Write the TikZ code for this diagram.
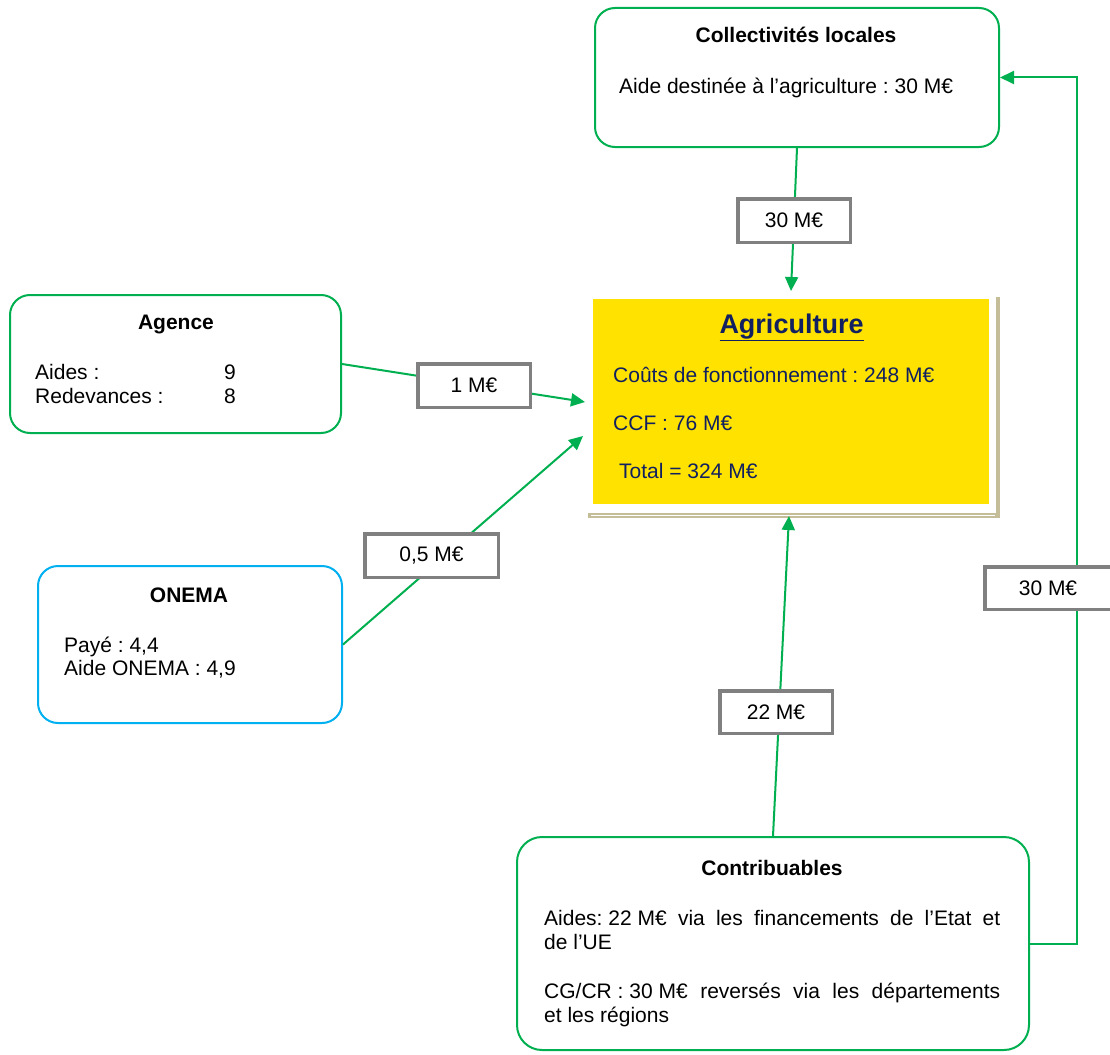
\documentclass[tikz,border=0pt]{standalone}
\usepackage{fontspec}
\setmainfont{Liberation Sans}
\usetikzlibrary{arrows.meta}
\definecolor{grn}{RGB}{0,176,80}
\definecolor{blu}{RGB}{0,176,240}
\definecolor{gry}{RGB}{128,128,128}
\definecolor{yel}{RGB}{255,226,0}
\definecolor{khaki}{RGB}{196,189,151}
\definecolor{navy}{RGB}{16,32,96}
\newcommand{\myfs}{\fontsize{21pt}{24pt}\selectfont\frenchspacing}
\frenchspacing
\begin{document}
\frenchspacing
\begin{tikzpicture}[x=1pt,y=-1pt,
  gbox/.style={draw=grn,line width=2pt,rounded corners=20pt,inner sep=0pt},
  bbox/.style={draw=blu,line width=2pt,rounded corners=20pt,inner sep=0pt},
  labbox/.style={draw=gry,fill=white,line width=3.5pt,inner sep=0pt,font=\myfs},
  flow/.style={draw=grn,line width=2pt,-{Triangle[length=14pt,width=13pt]}},
  txt/.style={inner sep=0pt,anchor=base west,font=\myfs},
  ttl/.style={inner sep=0pt,anchor=base,font=\myfs\bfseries},
]
\useasboundingbox[fill=white] (0,0) rectangle (1110,1054);

% boxes
\node[gbox,minimum width=404pt,minimum height=139pt] (coll) at (797,77.5) {};
\node[gbox,minimum width=331pt,minimum height=138pt] (agence) at (175.5,364) {};
\node[bbox,minimum width=304pt,minimum height=157pt] (onema) at (190,644.5) {};
\node[gbox,rounded corners=25pt,minimum width=512pt,minimum height=213pt] (contrib) at (773,943.5) {};

% agriculture frame
\draw[khaki,line width=3.5pt] (998,297) -- (998,517);
\draw[khaki,line width=5pt] (588,515.5) -- (1000,515.5);
\draw[white,line width=0.8pt] (591,515.5) -- (995,515.5);
\node[fill=yel,minimum width=396pt,minimum height=205pt,inner sep=0pt] (agri) at (791,401.5) {};

% arrow tips
\coordinate (tA) at (585,402);
\coordinate (tO) at (583,436);
\coordinate (tC) at (791,291);
\coordinate (tK) at (789,516);
\coordinate (rx) at (1077,0);

% connectors
\draw[flow] (agence.east) -- (tA);
\draw[flow] (onema.east) -- (tO);
\draw[flow] (coll.south) -- (tC);
\draw[flow] (contrib.north) -- (tK);
\draw[flow] (contrib.east) -- (contrib.east -| rx) -- (coll.east -| rx) -- (coll.east);

% labels on connectors
\node[labbox,minimum width=112.5pt,minimum height=43.5pt] (l30a) at (794,220.5) {30 M€};
\node[labbox,minimum width=126.5pt,minimum height=42.5pt] (l30b) at (1048,588) {30 M€};
\node[labbox,minimum width=112.5pt,minimum height=43.5pt] (l1) at (474,385.5) {1 M€};
\node[labbox,minimum width=133.5pt,minimum height=43.5pt] (l05) at (431.5,555.5) {0,5 M€};
\node[labbox,minimum width=112.5pt,minimum height=42.5pt] (l22) at (776,712) {22 M€};

% Collectivites text
\node[ttl] (collT) at (796,43) {Collectivités locales};
\node[txt] (collA) at (619,94) {Aide destinée à l’agriculture : 30 M€};

% Agence text
\node[ttl] (agT) at (176,329) {Agence};
\node[txt] (ag1) at (35,379) {Aides :};
\node[txt] (ag1v) at (224,379) {9};
\node[txt] (ag2) at (35,403) {Redevances :};
\node[txt] (ag2v) at (224,403) {8};

% ONEMA text
\node[ttl] (onT) at (189,602) {ONEMA};
\node[txt] (on1) at (64,652) {Payé : 4,4};
\node[txt] (on2) at (64,675) {Aide ONEMA : 4,9};

% Agriculture text
\node[inner sep=0pt,anchor=base,font=\fontsize{27pt}{30pt}\selectfont\bfseries,text=navy] (agriT) at (791.5,333) {\underline{Agriculture}};
\node[txt,text=navy] (agri1) at (613,382) {Coûts de fonctionnement : 248 M€};
\node[txt,text=navy] (agri2) at (613,430) {CCF : 76 M€};
\node[txt,text=navy] (agri3) at (619,478) {Total = 324 M€};

% Contribuables text
\node[ttl] (coT) at (772,875) {Contribuables};
\node[txt] (co1) at (544,925) {\makebox[456pt][s]{Aides:\kern0.28em22\kern0.28em M€ via les financements de l’Etat et}};
\node[txt] (co2) at (544,949) {de l’UE};
\node[txt] (co3) at (544,998) {\makebox[456pt][s]{CG/CR\kern0.28em:\kern0.28em30\kern0.28em M€ reversés via les départements}};
\node[txt] (co4) at (544,1022) {et les régions};
\end{tikzpicture}
\end{document}
